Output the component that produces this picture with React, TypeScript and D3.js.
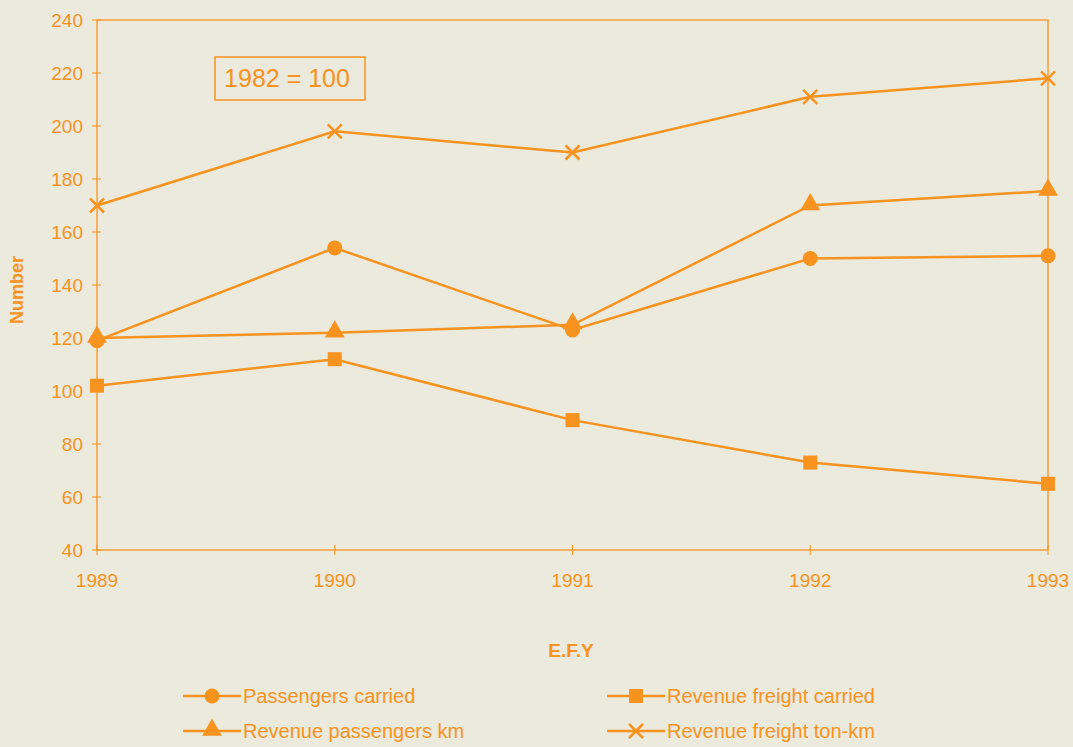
import React from "react";
import * as d3 from "d3";

const years = [1989, 1990, 1991, 1992, 1993];
const passengersCarried = [119, 154, 123, 150, 151];
const revenuePassengersKm = [120, 122, 125, 170, 175.5];
const revenueFreightCarried = [102, 112, 89, 73, 65];
const revenueFreightTonKm = [170, 198, 190, 211, 218];
const yTicks = [40, 60, 80, 100, 120, 140, 160, 180, 200, 220, 240];

const series = [
  { name: "Passengers carried", values: passengersCarried, marker: "circle" },
  { name: "Revenue passengers km", values: revenuePassengersKm, marker: "triangle" },
  { name: "Revenue freight carried", values: revenueFreightCarried, marker: "square" },
  { name: "Revenue freight ton-km", values: revenueFreightTonKm, marker: "cross" },
];

const W = 1073, H = 747;
const M = { left: 97, right: 1048, top: 20, bottom: 550 };
const ORANGE = "#f7931e";
const FONT = "'Liberation Sans', Arial, sans-serif";

function Marker({ type, x, y }: { type: string; x: number; y: number }) {
  if (type === "circle") return <circle cx={x} cy={y} r={7.5} fill={ORANGE} />;
  if (type === "square") return <rect x={x - 7} y={y - 7} width={14} height={14} fill={ORANGE} />;
  if (type === "triangle") {
    const p = d3.symbol().type(d3.symbolTriangle).size(170)();
    return <path d={p || ""} transform={`translate(${x},${y - 1})`} fill={ORANGE} />;
  }
  return (
    <g stroke={ORANGE} strokeWidth={2.5}>
      <line x1={x - 7} y1={y - 7} x2={x + 7} y2={y + 7} />
      <line x1={x - 7} y1={y + 7} x2={x + 7} y2={y - 7} />
    </g>
  );
}

export default function App() {
  const x = d3.scalePoint<number>().domain(years).range([M.left, M.right]);
  const y = d3.scaleLinear().domain([40, 240]).range([M.bottom, M.top]);
  const line = d3.line<number>().x((_, i) => x(years[i])!).y((v) => y(v));

  const legendPos = [
    { lx: 183, ly: 696 },
    { lx: 183, ly: 731 },
    { lx: 607, ly: 696 },
    { lx: 607, ly: 731 },
  ];

  return (
    <svg width={W} height={H} style={{ position: "fixed", left: 0, top: 0, display: "block" }} fontFamily={FONT}>
      <rect x={0} y={0} width={W} height={H} fill="#ece9dd" />
      {/* frame */}
      <rect x={M.left} y={M.top} width={M.right - M.left} height={M.bottom - M.top} fill="none" stroke={ORANGE} strokeWidth={1.3} />
      {/* y ticks */}
      {yTicks.map((t) => (
        <g key={t}>
          <line x1={M.left - 5} x2={M.left + 4} y1={y(t)} y2={y(t)} stroke={ORANGE} strokeWidth={1} />
          <text x={M.left - 14} y={y(t)} dy="0.35em" textAnchor="end" fontSize={19} fill={ORANGE}>{t}</text>
        </g>
      ))}
      {/* x ticks */}
      {years.map((yr) => (
        <g key={yr}>
          <line x1={x(yr)} x2={x(yr)} y1={M.bottom - 5} y2={M.bottom + 5} stroke={ORANGE} strokeWidth={1} />
          <text x={x(yr)} y={M.bottom + 37} textAnchor="middle" fontSize={19} fill={ORANGE}>{yr}</text>
        </g>
      ))}
      <text transform={`translate(23,290) rotate(-90)`} textAnchor="middle" fontSize={18} fontWeight="bold" fill={ORANGE}>Number</text>
      <text x={571} y={657} textAnchor="middle" fontSize={19} fontWeight="bold" fill={ORANGE}>E.F.Y</text>
      {/* annotation box */}
      <rect x={215} y={57} width={150} height={43} fill="none" stroke={ORANGE} strokeWidth={1.5} />
      <text x={287} y={78} dy="0.35em" textAnchor="middle" fontSize={25} fill={ORANGE}>1982 = 100</text>
      {/* lines */}
      {series.map((s) => (
        <g key={s.name}>
          <path d={line(s.values) || ""} fill="none" stroke={ORANGE} strokeWidth={2.5} />
          {s.values.map((v, i) => (
            <Marker key={i} type={s.marker} x={x(years[i])!} y={y(v)} />
          ))}
        </g>
      ))}
      {/* legend */}
      {series.map((s, i) => {
        const { lx, ly } = legendPos[i];
        return (
          <g key={s.name}>
            <line x1={lx} x2={lx + 58} y1={ly} y2={ly} stroke={ORANGE} strokeWidth={2.5} />
            <Marker type={s.marker} x={lx + 29} y={ly} />
            <text x={lx + 60} y={ly} dy="0.35em" fontSize={20} fill={ORANGE}>{s.name}</text>
          </g>
        );
      })}
    </svg>
  );
}
